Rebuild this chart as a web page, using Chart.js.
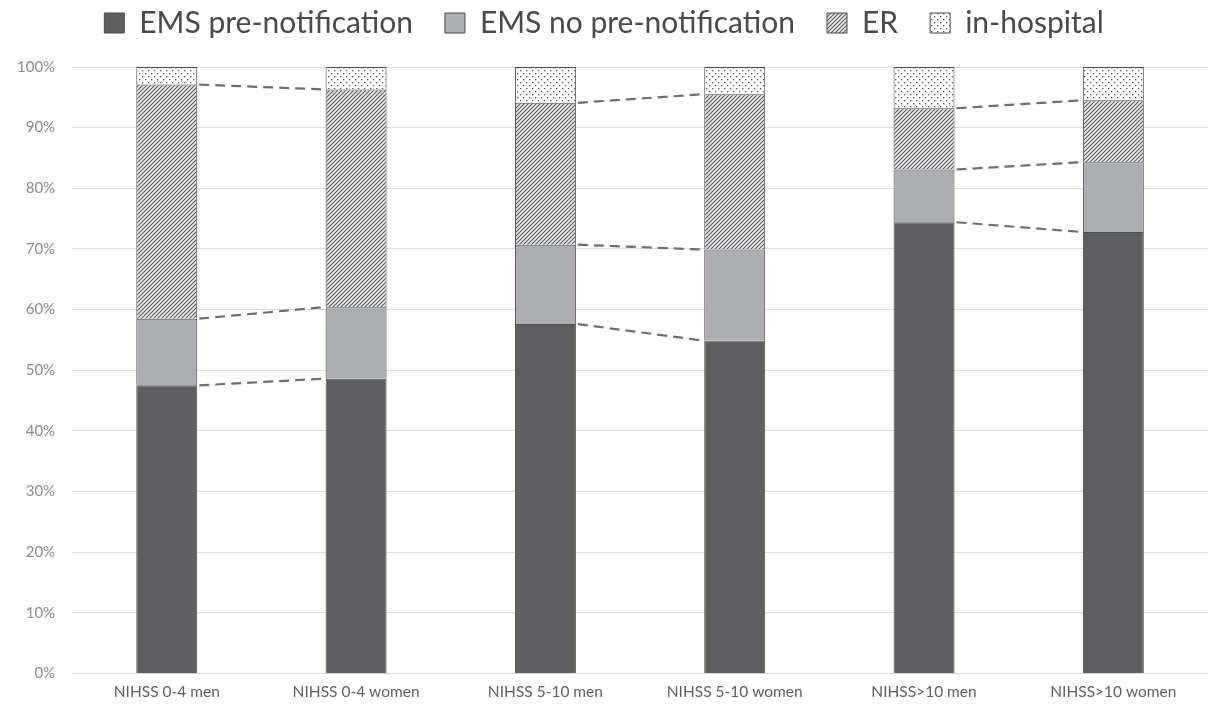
<!DOCTYPE html>
<html>
<head>
<meta charset="utf-8">
<script src="https://cdn.jsdelivr.net/npm/chart.js@4.4.0/dist/chart.umd.min.js"></script>
<style>
  body { margin: 0; background: #fff; }
  #wrap { width: 1208px; height: 707px; }
</style>
</head>
<body>
<div id="wrap"><canvas id="chart"></canvas></div>
<script>
// datos (porcentajes de cada segmento)
const categories = ["NIHSS 0-4 men", "NIHSS 0-4 women", "NIHSS 5-10 men", "NIHSS 5-10 women", "NIHSS>10 men", "NIHSS>10 women"];
const emsPre = [47.5, 48.6, 57.6, 54.9, 74.4, 72.8];
const emsNoPre = [11.0, 11.8, 13.1, 15.0, 8.7, 11.5];
const er = [38.6, 35.9, 23.4, 25.6, 10.1, 10.2];
const inHospital = [2.9, 3.7, 5.9, 4.5, 6.8, 5.5];
const yTicks = [0, 10, 20, 30, 40, 50, 60, 70, 80, 90, 100];

// patrón de rayas diagonales
function makeHatch() {
  const s = 4;
  const c = document.createElement("canvas");
  c.width = s; c.height = s;
  const x = c.getContext("2d");
  x.fillStyle = "#ececec";
  x.fillRect(0, 0, s, s);
  x.strokeStyle = "#5a5a5a";
  x.lineWidth = 1.1;
  x.beginPath();
  x.moveTo(-1, s + 1); x.lineTo(s + 1, -1);
  x.moveTo(-1, 1); x.lineTo(1, -1);
  x.moveTo(s - 1, s + 1); x.lineTo(s + 1, s - 1);
  x.stroke();
  return x.createPattern(c, "repeat");
}

// patrón de puntos
function makeDots() {
  const c = document.createElement("canvas");
  c.width = 6; c.height = 6;
  const x = c.getContext("2d");
  x.fillStyle = "#ffffff";
  x.fillRect(0, 0, 6, 6);
  x.fillStyle = "#555";
  x.fillRect(1, 1, 1.3, 1.3);
  x.fillRect(4, 4, 1.3, 1.3);
  return x.createPattern(c, "repeat");
}

// líneas de serie discontinuas entre pares de barras
const seriesLines = {
  id: "seriesLines",
  afterDatasetsDraw(chart) {
    const ctx = chart.ctx;
    const y = chart.scales.y;
    const metas = [0, 1, 2].map(i => chart.getDatasetMeta(i));
    ctx.save();
    ctx.strokeStyle = "#6e6e6e";
    ctx.lineWidth = 2.2;
    ctx.setLineDash([10, 6]);
    for (let p = 0; p < categories.length; p += 2) {
      let cumA = 0, cumB = 0;
      metas.forEach((meta, d) => {
        const data = chart.data.datasets[d].data;
        cumA += data[p]; cumB += data[p + 1];
        const a = meta.data[p], b = meta.data[p + 1];
        ctx.beginPath();
        ctx.moveTo(a.x + a.width / 2 + 2, y.getPixelForValue(cumA));
        ctx.lineTo(b.x - b.width / 2 - 2, y.getPixelForValue(cumB));
        ctx.stroke();
      });
    }
    ctx.restore();
  }
};

// separación extra debajo de la leyenda
const legendGap = {
  id: "legendGap",
  beforeInit(chart) {
    const fit = chart.legend.fit;
    chart.legend.fit = function () {
      fit.bind(chart.legend)();
      this.height += 19;
    };
  }
};

const ctx = document.getElementById("chart").getContext("2d");
new Chart(ctx, {
  type: "bar",
  data: {
    labels: categories,
    datasets: [
      { label: "EMS pre-notification", data: emsPre, backgroundColor: "#5f5f61", borderColor: "#4a4a4a", borderWidth: 1 },
      { label: "EMS no pre-notification", data: emsNoPre, backgroundColor: "#adaeb1", borderColor: "#4a4a4a", borderWidth: 1 },
      { label: "ER", data: er, backgroundColor: makeHatch(), borderColor: "#4a4a4a", borderWidth: 1 },
      { label: "in-hospital", data: inHospital, backgroundColor: makeDots(), borderColor: "#4a4a4a", borderWidth: 1 }
    ]
  },
  options: {
    responsive: true,
    maintainAspectRatio: false,
    animation: false,
    layout: { padding: { left: 0, right: 0, top: -24, bottom: -3 } },
    categoryPercentage: 1.0,
    barPercentage: 0.322,
    plugins: {
      legend: {
        position: "top",
        labels: {
          font: { family: "Lato", size: 30 },
          color: "#4a4a4a",
          boxWidth: 20,
          boxHeight: 20,
          padding: 32
        }
      },
      tooltip: { enabled: false }
    },
    scales: {
      x: {
        stacked: true,
        grid: { display: false, drawTicks: false },
        border: { color: "#d9d9d9" },
        ticks: { color: "#5f5f5f", font: { family: "Lato", size: 15.5 }, padding: 9 }
      },
      y: {
        stacked: true,
        min: 0,
        max: 100,
        afterBuildTicks: axis => { axis.ticks = yTicks.map(v => ({ value: v })); },
        grid: { color: "#dcdcdc", drawTicks: false },
        border: { display: false },
        ticks: { color: "#8a8a8a", font: { family: "Lato", size: 15 }, padding: 17, callback: v => v + "%" }
      }
    }
  },
  plugins: [seriesLines, legendGap]
});
</script>
</body>
</html>
